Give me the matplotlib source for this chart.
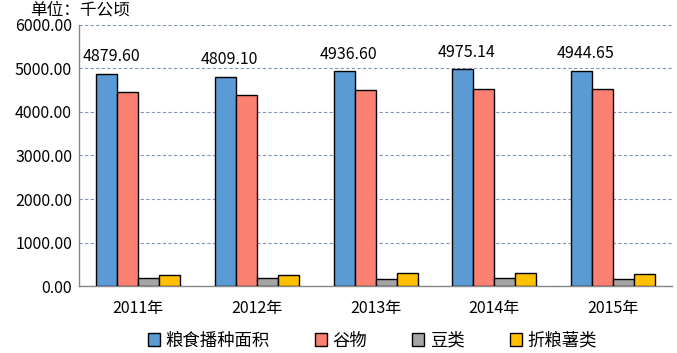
import matplotlib.pyplot as plt
import numpy as np

plt.rcParams['font.family'] = ['Noto Sans CJK SC', 'DejaVu Sans']

# data
years = ['2011年', '2012年', '2013年', '2014年', '2015年']
series_names = ['粮食播种面积', '谷物', '豆类', '折粮薯类']
grain = [4879.60, 4809.10, 4936.60, 4975.14, 4944.65]
cereal = [4450, 4381, 4495, 4518, 4518]
beans = [183, 183, 167, 190, 167]
tubers = [252, 252, 298, 298, 275]
colors = ['#5B9BD5', '#FA8072', '#A5A5A5', '#FFC000']

fig = plt.figure(figsize=(6.77, 3.53), dpi=100)
ax = fig.add_axes([0.1167, 0.189, 0.876, 0.741])

x = np.arange(len(years))
w = 0.177
all_series = [grain, cereal, beans, tubers]
bars = []
for i, vals in enumerate(all_series):
    b = ax.bar(x + (i - 1.5) * w, vals, w, color=colors[i], edgecolor='black',
               linewidth=1, label=series_names[i], zorder=3)
    bars.append(b)

# value labels on the first series only
for rect, v in zip(bars[0], grain):
    ax.annotate(f'{v:.2f}', (rect.get_x() + rect.get_width() / 2, v),
                xytext=(3, 6), textcoords='offset points',
                ha='center', va='bottom', fontsize=11.5, color='black')

ax.set_xlim(-0.5, len(years) - 0.5)
ax.set_ylim(0, 6000)
ax.set_yticks(np.arange(0, 6001, 1000))
ax.set_yticklabels([f'{t:.2f}' for t in np.arange(0, 6001, 1000)])
ax.set_xticks(x)
ax.set_xticklabels(years)
ax.tick_params(axis='both', length=0, labelsize=11.5)
ax.tick_params(axis='x', pad=10)
ax.tick_params(axis='y', pad=5)

ax.yaxis.grid(True, linestyle=(0, (3, 2)), color='#8497B0', linewidth=0.8, zorder=0)
ax.set_axisbelow(True)
for s in ['top', 'right']:
    ax.spines[s].set_visible(False)
for s in ['left', 'bottom']:
    ax.spines[s].set_color('#888888')
    ax.spines[s].set_linewidth(1)

fig.text(0.044, 0.972, '单位：千公顷', fontsize=12, ha='left', va='center')

fig.legend(handles=bars, labels=series_names, loc='center', bbox_to_anchor=(0.55, 0.035),
           ncol=4, frameon=False, fontsize=12.5, handlelength=0.7, handleheight=0.7,
           handletextpad=0.3, columnspacing=2.6)

fig.savefig('out.png', dpi=100)
